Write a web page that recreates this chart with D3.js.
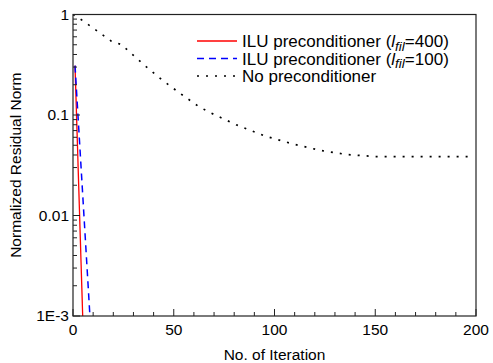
<!DOCTYPE html>
<html>
<head>
<meta charset="utf-8">
<script src="https://cdn.jsdelivr.net/npm/d3@7"></script>
<style>
  body { margin: 0; background: white; }
  svg { display: block; font-family: "Liberation Sans", Arial, sans-serif; }
</style>
</head>
<body>
<div id="chart"></div>
<script>
// iteration / normalized residual norm
const ilu400Iter = [1, 5];
const ilu400Norm = [0.31, 0.00075];
const ilu100Iter = [1, 9];
const ilu100Norm = [0.31, 0.00063];
const noPreIter = [0, 5, 19, 24, 36, 44, 53, 62, 67, 81, 95, 109, 123, 136, 150, 198];
const noPreNorm = [1, 0.865, 0.543, 0.502, 0.306, 0.225, 0.165, 0.123, 0.108, 0.080, 0.062, 0.0516, 0.0443, 0.0404, 0.0386, 0.0386];

const xTicks = [0, 50, 100, 150, 200];
const yTicks = [1, 0.1, 0.01, 0.001];
const yTickLabels = ['1', '0.1', '0.01', '1E-3'];

const series = [
    { label: '400', iter: ilu400Iter, norm: ilu400Norm, color: '#ff0000', dash: null, width: 1.3 },
    { label: '100', iter: ilu100Iter, norm: ilu100Norm, color: '#0000ff', dash: '7,5', width: 1.5 },
    { label: null, iter: noPreIter, norm: noPreNorm, color: '#000000', dash: '2,7', width: 1.7 }
];

const W = 493, H = 363;
const margin = { top: 14.5, right: 17, bottom: 47, left: 73 };
const width = W - margin.left - margin.right;
const height = H - margin.top - margin.bottom;

const svg = d3.select('#chart')
    .append('svg')
    .attr('width', W)
    .attr('height', H);

const g = svg.append('g')
    .attr('transform', `translate(${margin.left},${margin.top})`);

const x = d3.scaleLinear().domain([0, 200]).range([0, width]);
const y = d3.scaleLog().domain([0.001, 1]).range([height, 0]);

g.append('clipPath').attr('id', 'clip')
    .append('rect').attr('width', width).attr('height', height);

// lines
const line = d3.line()
    .x(d => x(d[0]))
    .y(d => y(d[1]));

series.forEach(s => {
    g.append('path')
        .datum(s.iter.map((it, i) => [it, s.norm[i]]))
        .attr('clip-path', 'url(#clip)')
        .attr('fill', 'none')
        .attr('stroke', s.color)
        .attr('stroke-width', s.width)
        .attr('stroke-dasharray', s.dash)
        .attr('d', line);
});

// frame
g.append('rect')
    .attr('width', width)
    .attr('height', height)
    .attr('fill', 'none')
    .attr('stroke', '#222')
    .attr('stroke-width', 1.2);

// x axis: ticks pointing inward
const xMinor = d3.range(0, 201, 10).filter(v => !xTicks.includes(v));
g.append('g').selectAll('line.xminor')
    .data(xMinor).enter().append('line')
    .attr('x1', d => x(d)).attr('x2', d => x(d))
    .attr('y1', height).attr('y2', height - 4)
    .attr('stroke', '#222');
g.append('g').selectAll('line.xmajor')
    .data(xTicks).enter().append('line')
    .attr('x1', d => x(d)).attr('x2', d => x(d))
    .attr('y1', height).attr('y2', height - 7)
    .attr('stroke', '#222');
g.append('g').selectAll('text')
    .data(xTicks).enter().append('text')
    .attr('x', d => x(d))
    .attr('y', height + 19)
    .attr('text-anchor', 'middle')
    .style('font-size', '15.5px')
    .text(d => d);

// y axis: log ticks pointing inward
const yMinor = [];
[0.001, 0.01, 0.1].forEach(dec => {
    for (let k = 2; k <= 9; k++) yMinor.push(dec * k);
});
g.append('g').selectAll('line')
    .data(yMinor).enter().append('line')
    .attr('x1', 0).attr('x2', 4)
    .attr('y1', d => y(d)).attr('y2', d => y(d))
    .attr('stroke', '#222');
g.append('g').selectAll('line')
    .data(yTicks).enter().append('line')
    .attr('x1', 0).attr('x2', 7)
    .attr('y1', d => y(d)).attr('y2', d => y(d))
    .attr('stroke', '#222');
g.append('g').selectAll('text')
    .data(yTicks).enter().append('text')
    .attr('x', -4)
    .attr('y', d => y(d))
    .attr('dy', '0.35em')
    .attr('text-anchor', 'end')
    .style('font-size', '15.5px')
    .text((d, i) => yTickLabels[i]);

// axis titles
svg.append('text')
    .attr('x', margin.left + width / 2)
    .attr('y', H - 3)
    .attr('text-anchor', 'middle')
    .style('font-size', '15.5px')
    .text('No. of Iteration');

svg.append('text')
    .attr('transform', `translate(21,${margin.top + height / 2}) rotate(-90)`)
    .attr('text-anchor', 'middle')
    .style('font-size', '15.5px')
    .text('Normalized Residual Norm');

// legend
const legend = svg.append('g').attr('transform', 'translate(197,41)');
series.forEach((s, i) => {
    const row = legend.append('g').attr('transform', `translate(0,${i * 17.5})`);
    row.append('line')
        .attr('x1', 0).attr('x2', 40)
        .attr('stroke', s.color)
        .attr('stroke-width', s.width)
        .attr('stroke-dasharray', s.dash);
    const t = row.append('text')
        .attr('x', 45)
        .attr('dy', '0.36em')
        .style('font-size', '17px');
    if (s.label) {
        t.append('tspan').text('ILU preconditioner (');
        t.append('tspan').style('font-style', 'italic').text('l');
        t.append('tspan').style('font-style', 'italic').style('font-size', '13.5px')
            .attr('dy', 3.5).text('fil');
        t.append('tspan').attr('dy', -3.5).text('=' + s.label + ')');
    } else {
        t.text('No preconditioner');
    }
});
</script>
</body>
</html>
